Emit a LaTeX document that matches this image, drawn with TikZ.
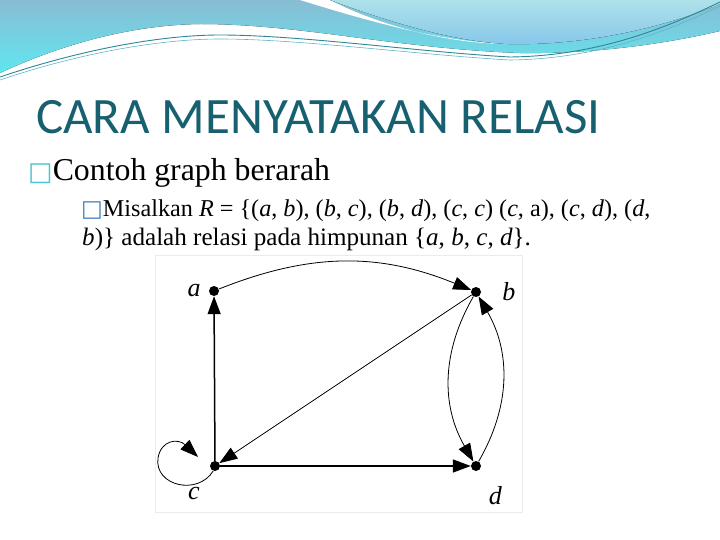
\documentclass[tikz,border=0pt]{standalone}
\usepackage{fontspec}
\setmainfont{Liberation Serif}
\newfontfamily\titlefont{Carlito}
\newfontfamily\symfont{DejaVu Sans}
\usetikzlibrary{positioning,arrows.meta}

\definecolor{titleteal}{HTML}{17606F}
\definecolor{wavetop}{HTML}{88BDD4}
\definecolor{wavecyan}{HTML}{60E6EF}
\definecolor{wavelight}{HTML}{AEE2EA}
\definecolor{wavedeep}{HTML}{86C6EA}
\definecolor{waveline}{HTML}{2C8796}
\definecolor{wavelinelight}{HTML}{5FB4C4}
\definecolor{bulletteal}{HTML}{4DC3CC}
\definecolor{bulletblue}{HTML}{3F7FC0}

\tikzset{
  vertex/.style={circle, fill=black, inner sep=0pt, minimum size=10pt},
  vlabel/.style={font=\fontsize{26}{28}\selectfont\itshape, inner sep=1pt},
  edge/.style={-{Triangle[length=18pt,width=13pt]}, line width=0.8pt},
  stiff/.style={edge, line width=1.5pt},
  bodytext/.style={anchor=base west, inner sep=0pt},
}

\begin{document}
\begin{tikzpicture}[x=1pt, y=-1pt]
    \useasboundingbox (0,0) rectangle (720,540);

    % Header wave
    \fill[top color=wavetop, bottom color=wavecyan] (0,0) -- (720,0) -- (720,31)
        .. controls (660,45) and (590,54) .. (520,53)
        .. controls (460,51) and (400,43) .. (360,38)
        .. controls (300,30) and (250,24) .. (200,24)
        .. controls (130,25) and (60,45) .. (0,73) -- cycle;
    \fill[white] (300,0) .. controls (390,28) and (450,42) .. (508,44)
        .. controls (450,44) and (380,26) .. (330,0) -- cycle;
    \fill[top color=wavelight, bottom color=wavedeep] (330,0)
        .. controls (400,26) and (460,42) .. (508,44)
        .. controls (590,46) and (670,25) .. (720,4) -- (720,0) -- cycle;
    \draw[waveline, line width=0.9pt] (0,77) .. controls (80,50) and (160,35) .. (220,35)
        .. controls (300,35) and (420,52) .. (510,57)
        .. controls (600,56) and (670,26) .. (720,2);
    \draw[wavelinelight, line width=0.6pt] (0,80) .. controls (80,53) and (160,39) .. (220,39)
        .. controls (300,39) and (420,55) .. (510,60)
        .. controls (600,59) and (670,30) .. (720,6);

    % Title and bullets
    \node[bodytext, text=titleteal, font=\titlefont\fontsize{51}{56}\selectfont] (title) at (36,134) {CARA MENYATAKAN RELASI};
    \node[bodytext, font=\fontsize{31.8}{34}\selectfont] (item) at (28,181)
        {{\symfont\fontsize{26}{28}\selectfont\color{bulletteal}□}Contoh graph berarah};
    \node[bodytext, font=\fontsize{24.2}{30}\selectfont] (subitem) at (81,216)
        {{\symfont\fontsize{23}{26}\selectfont\color{bulletblue}□}Misalkan \textit{R} = \{(\textit{a}, \textit{b}), (\textit{b}, \textit{c}), (\textit{b}, \textit{d}), (\textit{c}, \textit{c}) (\textit{c}, a), (\textit{c}, \textit{d}), (\textit{d},};
    \node[bodytext, font=\fontsize{25.1}{30}\selectfont] (subitemtail) at (82,245)
        {\textit{b})\} adalah relasi pada himpunan \{\textit{a}, \textit{b}, \textit{c}, \textit{d}\}.};

    % Graph frame
    \draw[black!8] (155,255) rectangle (522,512);

    % Vertices
    \node[vertex, label={[vlabel, label distance=7pt]left:a}] (a) at (214,291) {};
    \node[vertex, label={[vlabel, label distance=20pt]right:b}] (b) at (476,292) {};
    \node[vertex, label={[vlabel, label distance=19pt]234:c}] (c) at (215,466) {};
    \node[vertex, label={[vlabel, label distance=17pt]302:d}] (d) at (476,466) {};
    \coordinate (cloop) at (198,457);

    % Relation arrows
    \draw[edge] (a) to[bend left=22] (b);
    \draw[stiff] (c) -- (a);
    \draw[edge] (b) -- (c);
    \draw[stiff] (c) -- (d);
    \draw[edge] (b) to[bend right=30] (d);
    \draw[edge] (d) to[bend right=30] (b);
    \draw[edge] (c.250) .. controls (198,496) and (154,486) .. (158,458)
        .. controls (161,440) and (178,438) .. (cloop);
\end{tikzpicture}
\end{document}
